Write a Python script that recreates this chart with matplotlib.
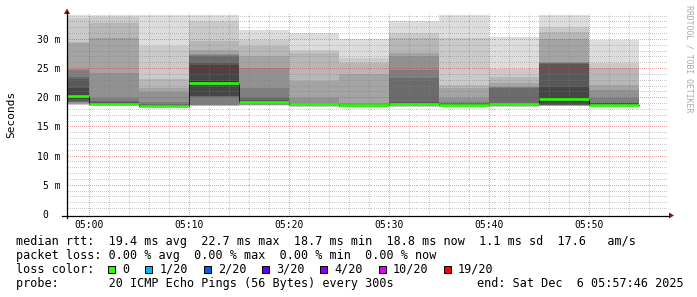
import matplotlib
matplotlib.use("Agg")
import matplotlib.pyplot as plt
import matplotlib.transforms as mtransforms
from matplotlib.lines import Line2D
from matplotlib.patches import Polygon, Rectangle
from matplotlib.ticker import MultipleLocator, FuncFormatter
import numpy as np

# 5 minute steps, 20 sorted ping rtts per step (ms)
step_start = ["04:55", "05:00", "05:05", "05:10", "05:15", "05:20",
              "05:25", "05:30", "05:35", "05:40", "05:45", "05:50"]
pings_0455 = [18.8, 18.9, 19.0, 19.1, 19.2, 19.3, 19.4, 19.6, 19.8, 20.2,
              20.6, 21.7, 23.3, 23.6, 24.8, 25.1, 29.5, 29.7, 33.8, 34.2]
pings_0500 = [18.7, 18.75, 18.8, 18.8, 18.8, 18.85, 18.9, 18.9, 18.95, 19.0,
              19.1, 19.2, 19.3, 19.5, 20.0, 24.3, 30.3, 32.9, 34.0, 34.2]
pings_0505 = [18.4, 18.45, 18.5, 18.5, 18.55, 18.6, 18.6, 18.65, 18.7, 18.7,
              18.8, 18.85, 18.9, 19.0, 19.3, 21.1, 21.7, 23.3, 29.0, 34.2]
pings_0510 = [18.7, 18.7, 18.75, 18.8, 18.85, 18.9, 20.3, 20.35, 20.4, 22.5,
              22.9, 25.7, 26.0, 27.2, 27.4, 27.6, 28.3, 29.8, 33.2, 34.2]
pings_0515 = [18.7, 18.8, 18.8, 18.9, 18.9, 19.0, 19.0, 19.1, 19.2, 19.3,
              19.4, 19.5, 19.7, 20.0, 21.7, 25.2, 27.2, 28.9, 30.0, 31.7]
pings_0520 = [18.5, 18.55, 18.6, 18.7, 18.75, 18.8, 18.8, 18.85, 18.9, 18.9,
              19.0, 19.05, 19.1, 19.15, 19.2, 20.0, 22.9, 27.7, 28.3, 31.2]
pings_0525 = [18.4, 18.45, 18.5, 18.5, 18.55, 18.6, 18.65, 18.7, 18.75, 18.8,
              18.8, 18.85, 18.9, 18.95, 19.0, 19.2, 24.1, 26.0, 26.9, 30.1]
pings_0530 = [18.5, 18.55, 18.6, 18.65, 18.7, 18.75, 18.8, 18.85, 18.9, 18.9,
              19.0, 19.1, 19.3, 23.5, 24.9, 27.2, 27.7, 30.3, 31.2, 33.3]
pings_0535 = [18.5, 18.55, 18.6, 18.65, 18.7, 18.75, 18.8, 18.85, 18.9, 18.9,
              18.95, 19.0, 19.1, 19.2, 19.3, 20.0, 21.7, 22.3, 30.3, 34.3]
pings_0540 = [18.5, 18.55, 18.6, 18.65, 18.7, 18.75, 18.8, 18.85, 18.9, 18.95,
              19.0, 19.1, 19.2, 21.8, 21.9, 22.0, 22.6, 23.7, 25.1, 30.5]
pings_0545 = [18.65, 18.7, 18.7, 18.75, 18.8, 18.8, 18.85, 18.9, 19.0, 19.6,
              20.0, 22.0, 25.9, 26.0, 26.1, 26.2, 30.2, 31.4, 32.2, 34.2]
pings_0550 = [18.5, 18.55, 18.6, 18.65, 18.7, 18.7, 18.75, 18.75, 18.8, 18.8,
              18.9, 19.15, 19.2, 19.25, 20.0, 21.5, 22.3, 25.2, 26.0, 30.0]

loss_labels = ["0", "1/20", "2/20", "3/20", "4/20", "10/20", "19/20"]
loss_colors = ["#26ff00", "#00b8ff", "#0059ff", "#5e00ff", "#7e00ff", "#dd00ff", "#ff0000"]

line_rtt = "median rtt:  19.4 ms avg  22.7 ms max  18.7 ms min  18.8 ms now  1.1 ms sd  17.6   am/s"
line_loss = "packet loss: 0.00 % avg  0.00 % max  0.00 % min  0.00 % now"
line_probe = "probe:       20 ICMP Echo Pings (56 Bytes) every 300s"
line_end = "end: Sat Dec  6 05:57:46 2025"

plt.rcParams['font.family'] = ['DejaVu Sans Mono']

W, H = 697, 297
fig = plt.figure(figsize=(W / 100, H / 100), dpi=100)
fig.patch.set_facecolor('white')


def fx(x):
    return x / W


def fy(y):
    return 1 - y / H


AX_W, AX_H = 600, 201
ax = fig.add_axes([fx(67), fy(215), AX_W / W, AX_H / H])

# minutes relative to 05:00
x0 = np.array([int(t[:2]) * 60 + int(t[3:]) - 300 for t in step_start], dtype=float)
P = np.sort(np.array([pings_0455, pings_0500, pings_0505, pings_0510, pings_0515, pings_0520,
                      pings_0525, pings_0530, pings_0535, pings_0540, pings_0545, pings_0550]), axis=1)
n = P.shape[1]
half = n / 2

# smoke: pairs of pings, outer pairs light, inner pairs dark
for i in range(1, n // 2 + 1):
    g = int(190 / half * (half - i)) + 50
    col = '#%02x%02x%02x' % (g, g, g)
    lo = P[:, i - 1]
    hi = P[:, n - i]
    ax.bar(x0, hi - lo, bottom=lo, width=5, align='edge', color=col,
           linewidth=0, antialiased=False, zorder=1)

med = np.median(P, axis=1)
ax.step(np.append(x0, x0[-1] + 5), np.append(med, med[-1]), where='post',
        color='#202020', lw=0.72, zorder=3)
ax.hlines(med, x0, x0 + 5, color=loss_colors[0], lw=1.9, zorder=4)

xmin, xmax, ymax = -2.23, 57.77, 34.45
ax.set_xlim(xmin, xmax)
ax.set_ylim(0, ymax)
ax.xaxis.set_major_locator(MultipleLocator(10))
ax.yaxis.set_major_locator(MultipleLocator(5))
ax.xaxis.set_major_formatter(FuncFormatter(lambda v, p: '%02d:%02d' % divmod(int(round(v)) + 300, 60)))
ax.tick_params(axis='both', which='both', length=0)
ax.tick_params(axis='x', labelsize=7, pad=3.5)
ax.tick_params(axis='y', labelleft=False)
for s in ax.spines.values():
    s.set_visible(False)

# dotted grid (one pixel on, one off) drawn on top of the smoke, like rrdtool
minor_c = (0.5, 0.5, 0.5, 0.4)
major_c = (0.85, 0.1, 0.1, 0.4)
vtrans = mtransforms.blended_transform_factory(ax.transData, ax.transAxes)
htrans = mtransforms.blended_transform_factory(ax.transAxes, ax.transData)
ydots = (np.arange(0, AX_H, 2) + 0.5) / AX_H
xdots = (np.arange(0, AX_W, 2) + 0.5) / AX_W
for gx in np.arange(0, 58, 2):
    ax.plot(np.full_like(ydots, gx), ydots, ',', color=major_c if gx % 10 == 0 else minor_c,
            transform=vtrans, zorder=2.5)
for gy in np.arange(1, 35, 1):
    ax.plot(xdots, np.full_like(xdots, gy), ',', color=major_c if gy % 5 == 0 else minor_c,
            transform=htrans, zorder=2.5)

# y labels like rrdtool: "5 m", number column aligned
for v in range(0, 35, 5):
    if v == 0:
        ax.text(-18.5 / AX_W, v, '0', transform=htrans, ha='right', va='center', fontsize=7)
    else:
        ax.text(-6.5 / AX_W, v, '%d m' % v, transform=htrans, ha='right', va='center', fontsize=7)

# axes lines and arrows
fig.add_artist(Line2D([fx(62), fx(669)], [fy(215.5), fy(215.5)], color='black', lw=0.9))
fig.add_artist(Line2D([fx(67), fx(67)], [fy(218), fy(12)], color='black', lw=0.9))
fig.add_artist(Polygon([[fx(67), fy(8.5)], [fx(64), fy(14)], [fx(70), fy(14)]],
                       closed=True, color='#8b1010', lw=0))
fig.add_artist(Polygon([[fx(674), fy(215.5)], [fx(669), fy(212.5)], [fx(669), fy(218.5)]],
                       closed=True, color='#8b1010', lw=0))

fig.text(fx(11), fy(114), 'Seconds', rotation=90, ha='center', va='center', fontsize=8)
fig.text(fx(688.5), fy(5), 'RRDTOOL / TOBI OETIKER', rotation=270, ha='center', va='top',
         fontsize=5.9, color='#aaaaaa')

# legend lines
fs = 8.5
cw = 7.1
fig.text(fx(16), fy(245), line_rtt, fontsize=fs, va='baseline')
fig.text(fx(16), fy(259), line_loss, fontsize=fs, va='baseline')
fig.text(fx(16), fy(273), 'loss color:', fontsize=fs, va='baseline')
cur = 16 + 13 * cw
for lab, c in zip(loss_labels, loss_colors):
    fig.add_artist(Rectangle((fx(cur), fy(272.5)), 7 / W, 7 / H, facecolor=c,
                             edgecolor='black', lw=0.72))
    fig.text(fx(cur + 2 * cw), fy(273), lab, fontsize=fs, va='baseline')
    cur += (4 + len(lab)) * cw + 1.5
fig.text(fx(16), fy(287), line_probe, fontsize=fs, va='baseline')
fig.text(fx(477), fy(287), line_end, fontsize=fs, va='baseline')

fig.savefig('out.png', dpi=100, facecolor='white')
